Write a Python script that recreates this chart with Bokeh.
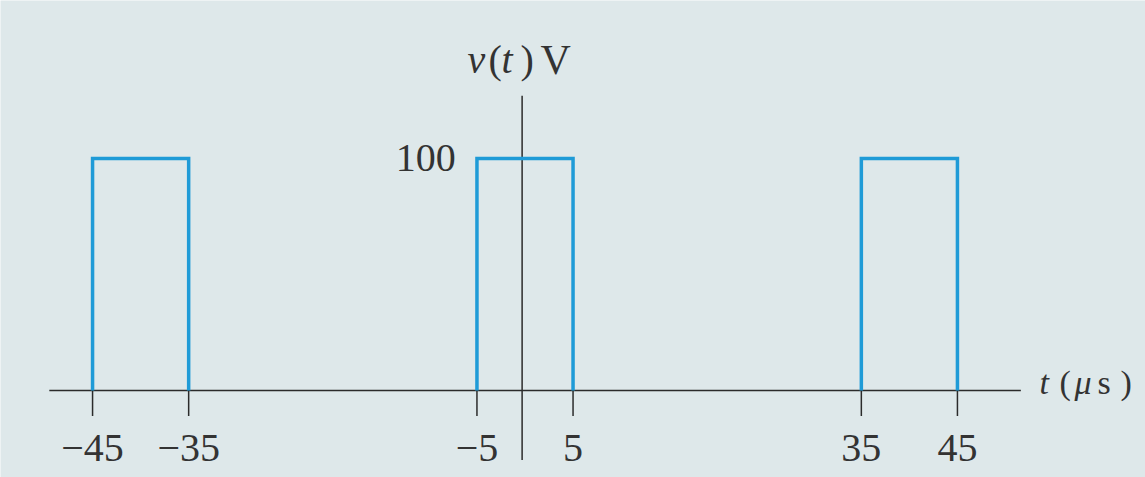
from bokeh.plotting import figure
from bokeh.models import Range1d
from bokeh.embed import file_html
from bokeh.resources import INLINE
from bokeh.core.properties import value

# data
pulse_starts = [-45, -5, 35]
pulse_width = 10
amplitude = 100
x_ticks = [-45, -35, -5, 5, 35, 45]
x_tick_labels = ["\u221245", "\u221235", "\u22125", "5", "35", "45"]
y_ticks = [100]
y_tick_labels = ["100"]

BG = "#dee8ea"
BLUE = "#1f9bd7"
AX = "#2b2b2b"
TXT = "#333333"
FONT = "Liberation Serif"

W, H = 1145, 477
X0, X1 = -54.58, 64.57
Y0, Y1 = -37.5, 168.1
p = figure(width=W, height=H, output_backend="svg", toolbar_location=None,
           x_range=Range1d(X0, X1), y_range=Range1d(Y0, Y1),
           min_border=0, background_fill_color=BG, border_fill_color=BG,
           outline_line_color=None)
p.axis.visible = False
p.grid.visible = False

# axes
p.segment(x0=[-49.5], y0=[0], x1=[51.6], y1=[0], line_color=AX, line_width=1.5)
p.segment(x0=[-0.3], y0=[-30], x1=[-0.3], y1=[127], line_color=AX, line_width=1.5)

# ticks
p.segment(x0=x_ticks, y0=[0] * len(x_ticks), x1=x_ticks, y1=[-11] * len(x_ticks),
          line_color=AX, line_width=1.5)

# pulses
xs = [[s, s, s + pulse_width, s + pulse_width] for s in pulse_starts]
ys = [[0, amplitude, amplitude, 0] for _ in pulse_starts]
p.multi_line(xs=xs, ys=ys, line_color=BLUE, line_width=3.5, line_join="miter")

# tick labels
p.text(x=x_ticks, y=[-24.6] * len(x_ticks), text=x_tick_labels,
       text_font=value(FONT), text_font_size="40px", text_color=TXT,
       text_align="center", text_baseline="middle")
p.text(x=[-7.2] * len(y_ticks), y=y_ticks, text=y_tick_labels,
       text_font=value(FONT), text_font_size="40px", text_color=TXT,
       text_align="right", text_baseline="middle")

# axis titles, placed by page pixel position (converted to data coordinates)
def lab(txt, px, py, style="normal", size="40px"):
    x = X0 + px / W * (X1 - X0)
    y = Y1 - py / H * (Y1 - Y0)
    p.text(x=[x], y=[y], text=[txt], text_font=value(FONT), text_font_size=size,
           text_font_style=style, text_color=TXT,
           text_baseline="middle", text_align="left")

lab("v", 467, 59, "italic")
lab("(", 488, 59)
lab("t", 501, 59, "italic")
lab(")", 520, 59)
lab("V", 540, 59, "normal", "42px")

lab("t", 1039, 382, "italic", "34px")
lab("(", 1059, 382, "normal", "34px")
lab("\u03bc", 1074, 382, "italic", "34px")
lab("s", 1097, 382, "normal", "34px")
lab(")", 1120, 382, "normal", "34px")

open("out.html", "w").write(file_html(p, INLINE))
